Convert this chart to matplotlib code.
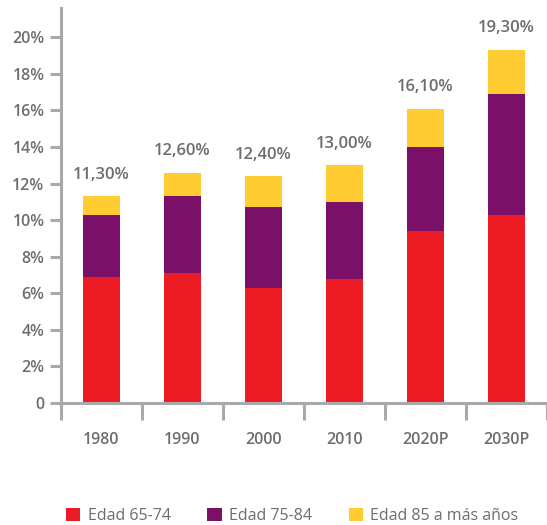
import matplotlib
matplotlib.use("Agg")
import matplotlib.pyplot as plt
from matplotlib.patches import Patch
import numpy as np

categories = ["1980", "1990", "2000", "2010", "2020P", "2030P"]
edad_65_74 = [6.9, 7.1, 6.3, 6.8, 9.4, 10.3]
edad_75_84 = [3.4, 4.2, 4.4, 4.2, 4.6, 6.6]
edad_85 = [1.0, 1.3, 1.7, 2.0, 2.1, 2.4]
totals = ["11,30%", "12,60%", "12,40%", "13,00%", "16,10%", "19,30%"]
series_names = ["Edad 65-74", "Edad 75-84", "Edad 85 a más años"]
yticks = [0, 2, 4, 6, 8, 10, 12, 14, 16, 18, 20]
ytick_labels = ["0", "2%", "4%", "6%", "8%", "10%", "12%", "14%", "16%", "18%", "20%"]

colors = ["#ED1C24", "#7B1068", "#FFCC33"]
gray_text = "#6d6d6d"
gray_axis = "#a7a9ab"

plt.rcParams['font.family'] = ['Open Sans', 'DejaVu Sans']

fig = plt.figure(figsize=(5.47, 5.25), dpi=100)
ax = fig.add_axes([61/547, 1 - 403/525, 1 - 61/547, (403 - 8)/525])

x = np.arange(len(categories))
w = 0.46
b1 = np.array(edad_65_74)
b2 = np.array(edad_75_84)
b3 = np.array(edad_85)
ax.bar(x, b1, w, color=colors[0], linewidth=0)
ax.bar(x, b2, w, bottom=b1, color=colors[1], linewidth=0)
ax.bar(x, b3, w, bottom=b1 + b2, color=colors[2], linewidth=0)

tops = b1 + b2 + b3
for xi, t, lab in zip(x, tops, totals):
    ax.text(xi, t + 0.75, lab, ha='center', va='bottom', fontsize=12,
            fontweight='semibold', color=gray_text)

ax.set_xlim(-0.5, 5.43)
ax.set_ylim(0, 21.6)

ax.set_yticks(yticks)
ax.set_yticklabels(ytick_labels, fontsize=11.5, fontweight='semibold', color=gray_text)

ax.set_xticks(np.arange(len(categories) + 1) - 0.5)
ax.set_xticklabels([])
ax.set_xticks(x, minor=True)
ax.set_xticklabels(categories, minor=True, fontsize=11.5, fontweight='semibold', color=gray_text)
ax.tick_params(axis='x', which='major', direction='out', length=12, width=2.2, color=gray_axis)
ax.tick_params(axis='x', which='minor', length=0, pad=21)
ax.tick_params(axis='y', direction='out', length=8, width=2.2, color=gray_axis, pad=4)

for s in ['top', 'right']:
    ax.spines[s].set_visible(False)
for s in ['left', 'bottom']:
    ax.spines[s].set_color(gray_axis)
    ax.spines[s].set_linewidth(2.2)
ax.spines['bottom'].set_capstyle('butt')

handles = [Patch(facecolor=c, edgecolor='none') for c in colors]
leg = fig.legend(handles, series_names, loc='center left', bbox_to_anchor=(66/547, 1 - 516/525),
                 ncol=3, frameon=False, fontsize=11.5, handlelength=0.9, handleheight=0.9,
                 handletextpad=0.45, columnspacing=2.3, borderaxespad=0, borderpad=0)
for t in leg.get_texts():
    t.set_color(gray_text)

fig.savefig("out.png", dpi=100)
